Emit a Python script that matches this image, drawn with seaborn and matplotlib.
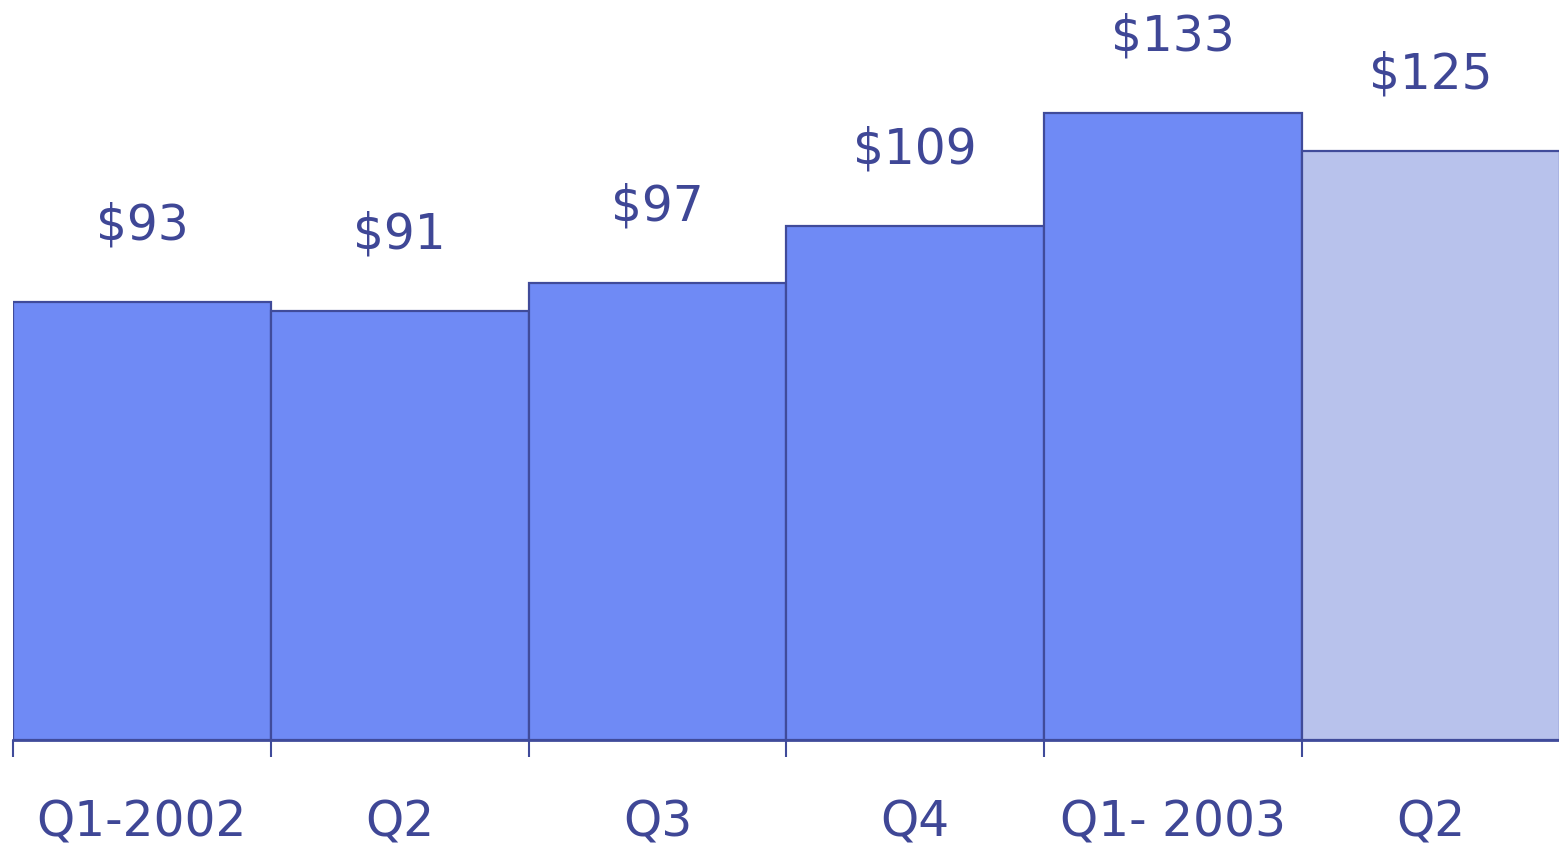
import matplotlib
matplotlib.use("Agg")
import matplotlib.pyplot as plt
import seaborn as sns
import pandas as pd

quarters = ["Q1-2002", "Q2", "Q3", "Q4", "Q1- 2003", "Q2 "]
values = [93, 91, 97, 109, 133, 125]
value_labels = ["$93", "$91", "$97", "$109", "$133", "$125"]
status = ["actual", "actual", "actual", "actual", "actual", "estimate"]

sns.set_theme(style="white")
plt.rcParams['font.family'] = ['DejaVu Sans']

EDGE = "#404B9A"
TEXT = "#3F4796"
palette = {"actual": "#6F8AF5", "estimate": "#B8C2EC"}

df = pd.DataFrame({"quarter": quarters, "value": values, "status": status})

fig = plt.figure(figsize=(15.59, 8.51), dpi=100)
ax = fig.add_axes([13 / 1559, 1 - 740 / 851, 1 - 13 / 1559, 740 / 851])

sns.barplot(data=df, x="quarter", y="value", hue="status", palette=palette,
            order=quarters, width=1.0, dodge=False, legend=False,
            edgecolor=EDGE, linewidth=1.6, ax=ax, saturation=1)

ax.set_xlim(-0.5, len(quarters) - 0.5 - 0.002)
ax.set_ylim(0, 157)

for i, (v, lab) in enumerate(zip(values, value_labels)):
    ax.annotate(lab, xy=(i, v), xytext=(0, 45), textcoords="offset points",
                ha="center", va="baseline", fontsize=35, color=TEXT)

for s in ["top", "left", "right"]:
    ax.spines[s].set_visible(False)
ax.spines["bottom"].set_color(EDGE)
ax.spines["bottom"].set_linewidth(2)

ax.set_yticks([])
ax.set_xlabel("")
ax.set_ylabel("")
ax.set_xticks(range(len(quarters)))
ax.set_xticklabels([q.strip() for q in quarters], fontsize=35, color=TEXT)
ax.tick_params(axis="x", which="major", length=0, pad=42)
ax.set_xticks([i - 0.5 for i in range(len(quarters))], minor=True)
ax.tick_params(axis="x", which="minor", length=12, width=1.5, color=EDGE,
               direction="out", bottom=True)

fig.savefig("out.png", dpi=100)
